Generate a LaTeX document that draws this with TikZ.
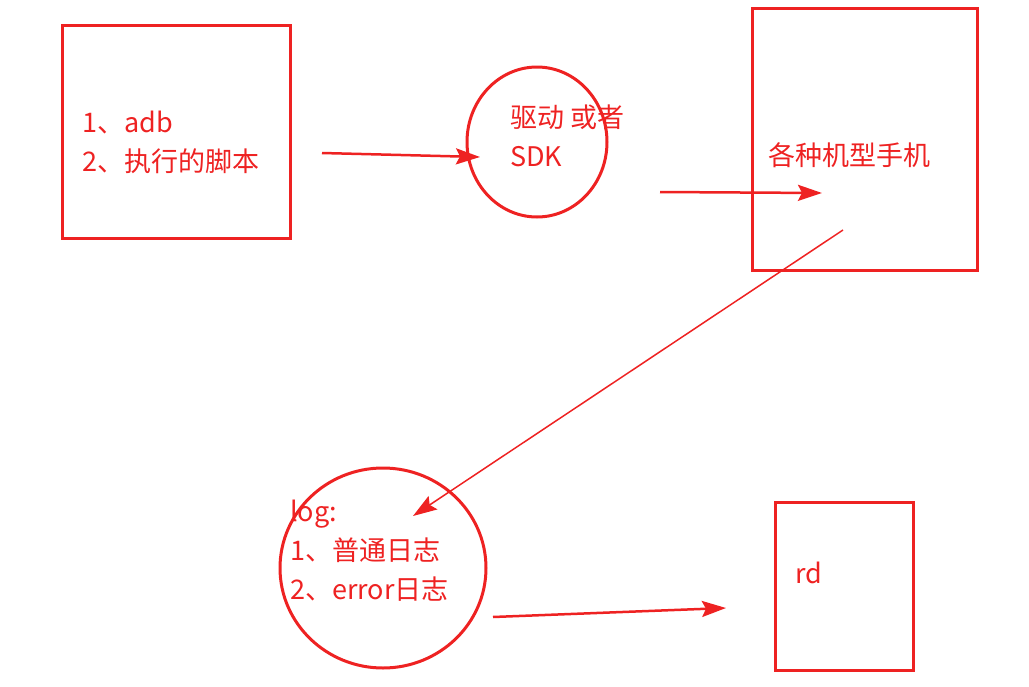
\documentclass[tikz,border=0pt]{standalone}
\usepackage{fontspec}
\setmainfont{Noto Sans CJK SC}
\usetikzlibrary{arrows.meta}
\definecolor{rr}{HTML}{EE2222}
\begin{document}
\begin{tikzpicture}[x=1pt,y=-1pt,
  shp/.style={draw=rr,line width=3pt},
  txt/.style={text=rr,font=\fontsize{27}{39}\selectfont,anchor=west,align=left,inner sep=0},
  arr/.style={rr,line width=2.5pt,-{Stealth[length=24pt,width=16pt,inset=4pt]}}]
\useasboundingbox (0,0) rectangle (1029,686);
\node[shp,minimum width=228pt,minimum height=213pt,inner sep=0] (b1) at (176,131.5) {};
\node[txt] (t1) at (82,142) {1、adb\\2、执行的脚本};
\draw[shp] (537,142) ellipse [x radius=70, y radius=75];
\node[txt] (t2) at (510,136) {驱动 或者\\SDK};
\node[shp,minimum width=225pt,minimum height=262pt,inner sep=0] (b2) at (864.5,139) {};
\node[txt] (t3) at (768,155) {各种机型手机};
\draw[shp] (383,568) ellipse [x radius=103, y radius=100];
\node[txt] (t4) at (290,551) {log:\\1、普通日志\\2、error日志};
\node[shp,minimum width=138pt,minimum height=168pt,inner sep=0] (b3) at (844,586) {};
\node[txt] (t5) at (795,573) {rd};
\coordinate (a1s) at (322,153); \coordinate (a1e) at (480,157);
\coordinate (a2s) at (660,192); \coordinate (a2e) at (822,193);
\coordinate (a3s) at (843,230); \coordinate (a3e) at (413,516);
\coordinate (a4s) at (493,617); \coordinate (a4e) at (726,608);
\draw[arr] (a1s) -- (a1e);
\draw[arr] (a2s) -- (a2e);
\draw[arr,line width=1.5pt] (a3s) -- (a3e);
\draw[arr] (a4s) -- (a4e);
\end{tikzpicture}
\end{document}
